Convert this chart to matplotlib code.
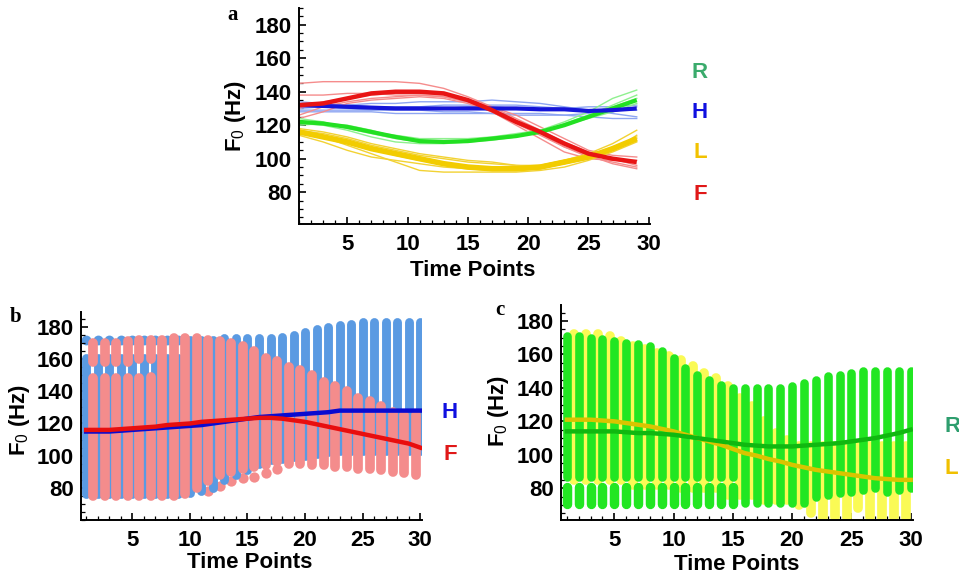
import numpy as np
import matplotlib
matplotlib.use("Agg")
import matplotlib.pyplot as plt
from matplotlib.ticker import MultipleLocator

# ---------------- data: panel a (time knots) ----------------
a_t = [1, 3, 5, 7, 9, 11, 13, 15, 17, 19, 21, 23, 25, 27, 29]
a_H_mean = [132, 131.5, 131, 130.5, 130, 130, 130, 130, 130, 130, 129.5, 129.5, 128.5, 129, 130]
a_H_thin = [
    [130, 131, 132, 133, 133, 134, 134, 134, 135, 134, 133, 131, 129, 127, 125],
    [128, 128, 128, 128, 127, 127, 127, 127, 127, 127, 127, 126, 125, 124, 124],
    [131, 131, 130, 129, 129, 129, 128, 128, 127, 126, 126, 126, 127, 128, 131],
    [134, 133, 132, 131, 131, 131, 132, 132, 132, 132, 131, 130, 129, 129, 129],
    [129, 129, 129, 129, 130, 130, 130, 131, 131, 130, 130, 130, 131, 131, 132],
]
a_F_mean = [132, 133, 136, 139, 140, 140, 139, 135, 129, 122, 116, 109, 103, 100, 98]
a_F_thin = [
    [145, 146, 146, 146, 146, 145, 142, 137, 131, 124, 117, 110, 104, 100, 96],
    [138, 138, 139, 139, 138, 138, 137, 134, 129, 122, 115, 107, 101, 98, 95],
    [130, 134, 136, 138, 139, 139, 138, 135, 131, 126, 119, 112, 105, 102, 101],
    [126, 131, 134, 136, 137, 138, 137, 134, 128, 120, 112, 104, 100, 99, 99],
    [124, 128, 133, 135, 136, 137, 136, 133, 128, 121, 114, 107, 102, 97, 94],
]
a_R_mean = [122, 121, 119, 116, 113, 110.5, 110, 110.5, 112, 113.5, 116, 120, 125, 130, 135]
a_R_thin = [
    [124, 122, 118, 115, 112, 110, 110, 110, 112, 114, 117, 122, 128, 136, 141],
    [121, 120, 117, 113, 110, 109, 109, 110, 111, 113, 116, 121, 126, 132, 138],
    [122, 121, 119, 116, 114, 112, 112, 112, 113, 115, 117, 120, 124, 128, 133],
    [120, 121, 120, 117, 113, 111, 110, 111, 112, 114, 116, 120, 125, 131, 136],
]
a_L_mean = [116, 113, 110, 106, 103, 100, 97, 95, 94, 94, 95, 98, 101, 106, 112]
a_L_thin = [
    [117, 115, 112, 108, 105, 102, 100, 98, 97, 96, 96, 99, 103, 109, 117],
    [115, 113, 108, 103, 98, 93, 92, 92, 92, 92, 93, 95, 99, 104, 110],
    [116, 114, 110, 106, 102, 99, 97, 95, 94, 94, 96, 99, 102, 106, 113],
    [118, 116, 113, 109, 106, 103, 101, 99, 98, 96, 95, 97, 100, 105, 114],
    [114, 110, 105, 101, 99, 97, 95, 94, 93, 93, 94, 97, 101, 107, 112],
]

# ---------------- data: panel b ----------------
t30 = list(range(1, 31))
b_H_mean = [115, 115, 115, 115.5, 116, 116.5, 117, 117.5, 118, 118.5, 119, 120, 121, 122, 123,
            124, 124.5, 125, 125.5, 126, 126.5, 127, 128, 128, 128, 128, 128, 128, 128, 128]
b_F_mean = [116, 116, 116, 116.5, 117, 117.5, 118, 119, 119.5, 120, 121, 121.5, 122, 122.5, 123,
            123.5, 123.5, 123, 122, 121, 119.5, 118, 116.5, 115, 113.5, 112, 110.5, 109, 107.5, 105]
b_H_lo = [76, 76, 76, 76, 76, 76, 76, 76, 76, 77, 78, 80, 85, 88, 91, 95, 97, 98, 99, 100,
          101, 102, 103, 103, 103, 103, 103, 103, 103, 103]
b_H_hi = [161, 161, 161, 161, 161, 161, 161, 161, 161, 172, 172, 172, 173, 173, 173, 173, 173, 174,
          175, 177, 179, 180, 181, 182, 183, 183, 183, 183, 183, 183]
b_H_top = [172, 172, 172, 172, 172, 172, 172, 172, 172] + [np.nan] * 21
b_F_lo = [75, 75, 75, 75, 75, 75, 75, 75, 76, 80, 84, 88, 90, 92, 93, 94, 96, 95, 95, 94,
          94, 93, 93, 92, 92, 91, 90, 89, 88]
b_F_hi = [148, 148, 148, 148, 148, 149, 172, 173, 173, 173, 172, 171, 170, 168, 165, 161, 159, 155,
          153, 150, 146, 143, 140, 136, 134, 131, 127, 125, 125]
b_F_up_lo = [158, 158, 158, 158, 160, 160] + [np.nan] * 23
b_F_up_hi = [170, 170, 170, 171, 172, 172] + [np.nan] * 23
b_F_dn = [np.nan] * 10 + [78, 81, 84, 86, 87, 89, 92] + [np.nan] * 12

# ---------------- data: panel c ----------------
c_R_mean = [114, 114, 114, 114, 114, 113.5, 113, 113, 112.5, 112, 111, 110, 109, 108, 107,
            106, 105.5, 105, 105, 105, 105.5, 106, 106.5, 107, 108, 109, 110, 111.5, 113, 115]
c_L_mean = [121, 121, 121, 120.5, 120, 119, 118, 117, 115.5, 114, 112, 110, 108, 106, 103.5,
            101, 99.5, 97.5, 96, 94, 92.5, 91, 90, 89, 88, 87, 86, 85.5, 85, 85]
c_R_hi = [171, 171, 170, 169, 168, 167, 166, 165, 162, 158, 152, 148, 145, 142, 140, 140, 140, 140,
          140, 141, 143, 145, 147, 148, 149, 150, 150, 150, 150, 150]
c_R_lo = [87] * 15 + [71] * 6 + [75, 76, 77, 78, 79, 80, 78, 79, 80]
c_R_dn_lo = [70.5] * 15 + [np.nan] * 15
c_R_dn_hi = [81] * 15 + [np.nan] * 15
c_L_hi = [172, 172, 172, 171, 168, 165, 163, 161, 159, 157, 153, 149, 146, 141, 134, 129, 120,
          113, 109, 105, 105, 105, 105, 105, 105, 105, 105, 105, 105]
c_L_lo = [85, 85, 85, 85, 85, 82, 82, 82, 82, 80, 80, 80, 80, 76, 76, 76, 73, 73, 73, 70,
          65, 62, 63, 62, 68, 63, 62, 63, 62]

yticks = [80, 100, 120, 140, 160, 180]
xticks = [5, 10, 15, 20, 25, 30]

# ---------------- figure ----------------
W, H = 959, 578
fig = plt.figure(figsize=(W / 100, H / 100), dpi=100)
FONT = "Liberation Sans"
plt.rcParams["font.family"] = FONT
plt.rcParams["mathtext.fontset"] = "custom"
plt.rcParams["mathtext.rm"] = FONT


def px_axes(l, t, r, b):
    return fig.add_axes([l / W, 1 - b / H, (r - l) / W, (b - t) / H])


def style(ax, xlim, ylim):
    ax.set_xlim(*xlim)
    ax.set_ylim(*ylim)
    for s in ("top", "right"):
        ax.spines[s].set_visible(False)
    for s in ("left", "bottom"):
        ax.spines[s].set_linewidth(1.4)
    ax.set_yticks(yticks)
    ax.set_xticks(xticks)
    ax.yaxis.set_minor_locator(MultipleLocator(5))
    ax.xaxis.set_minor_locator(MultipleLocator(1))
    ax.tick_params(which="major", direction="in", length=5, width=1.2, labelsize=16, pad=5)
    ax.tick_params(which="minor", direction="in", length=3, width=0.9)
    ax.tick_params(axis="x", which="major", pad=7)
    for lab in ax.get_xticklabels() + ax.get_yticklabels():
        lab.set_fontweight("bold")
    ax.set_facecolor("none")


def ylab(x, y):
    fig.text(x / W, 1 - y / H, r"F$_{\mathrm{0}}$ (Hz)", rotation=90, ha="center", va="center",
             fontsize=16, fontweight="bold")


def xlab(x, y):
    fig.text(x / W, 1 - y / H, "Time Points", ha="center", va="center",
             fontsize=16, fontweight="bold")


def side(x, y, s, c, ha="center"):
    fig.text(x / W, 1 - y / H, s, ha=ha, va="center", fontsize=16, fontweight="bold", color=c)


def panel(x, y, s):
    fig.text(x / W, 1 - y / H, s, ha="center", va="center", fontsize=15, fontweight="bold",
             family="Liberation Serif")


# ---- panel a ----
axa = px_axes(299, 8, 650, 224)
style(axa, (1, 30.1), (61, 190))
for ln in a_H_thin:
    axa.plot(a_t, ln, color="#8ea6f2", lw=1.0)
for ln in a_F_thin:
    axa.plot(a_t, ln, color="#f58c8c", lw=1.0)
for ln in a_R_thin:
    axa.plot(a_t, ln, color="#8ff08f", lw=1.0)
for ln in a_L_thin:
    axa.plot(a_t, ln, color="#f2d233", lw=1.0)
axa.plot(a_t, a_L_mean, color="#f2cc00", lw=4.0, solid_capstyle="butt")
axa.plot(a_t, a_R_mean, color="#22e022", lw=3.0, solid_capstyle="butt")
axa.plot(a_t, a_H_mean, color="#1414d8", lw=3.0, solid_capstyle="butt")
axa.plot(a_t, a_F_mean, color="#e81414", lw=3.2, solid_capstyle="butt")
ylab(236, 116)
xlab(473, 270)
panel(233, 15, "a")
side(700, 72, "R", "#3aab6c")
side(700, 112, "H", "#1010e0")
side(700, 153, "L", "#f2c200")
side(700, 194, "F", "#e01818")

# ---- panel b ----
axb = px_axes(81, 312, 422, 520)
style(axb, (0.55, 30.15), (60, 189.3))
xH = np.array(t30, dtype=float)
xF = np.array(t30[:29], dtype=float) + 0.6
blue, pink = "#5a9ae2", "#f48c8c"
axb.vlines(xH, b_H_lo, b_H_hi, color=blue, lw=6.4, capstyle="round")
axb.scatter(xH, b_H_top, s=50, color=blue, lw=0)
axb.vlines(xF, b_F_lo, b_F_hi, color=pink, lw=7.0, capstyle="round")
axb.vlines(xF, b_F_up_lo, b_F_up_hi, color=pink, lw=7.0, capstyle="round")
axb.scatter(xF, b_F_dn, s=55, color=pink, lw=0)
axb.plot(t30, b_H_mean, color="#0a0ad0", lw=3.2)
axb.plot(t30, b_F_mean, color="#e80e0e", lw=3.2)
ylab(20, 420)
xlab(250, 563)
panel(16, 317, "b")
side(450, 413, "H", "#1010e0")
side(450, 455, "F", "#e01818")

# ---- panel c ----
axc = px_axes(561, 305, 913, 520)
style(axc, (0.5, 30.2), (61, 189.6))
xR = np.array(t30, dtype=float)
xL = np.array(t30[:29], dtype=float) + 0.6
yel, grn = "#fafa55", "#22e622"
axc.vlines(xL, c_L_lo, c_L_hi, color=yel, lw=7.0, capstyle="round")
axc.vlines(xR, c_R_lo, c_R_hi, color=grn, lw=6.2, capstyle="round")
axc.vlines(xR, c_R_dn_lo, c_R_dn_hi, color=grn, lw=6.8, capstyle="round")
axc.plot(t30, c_L_mean, color="#d9c400", lw=3.2)
axc.plot(t30, c_R_mean, color="#10b810", lw=3.2)
ylab(498, 411)
xlab(737, 565)
panel(500, 310, "c")
side(944, 427, "R", "#2e9e6e", ha="left")
side(944, 468, "L", "#f0c000", ha="left")

fig.savefig("out.png", dpi=100)
